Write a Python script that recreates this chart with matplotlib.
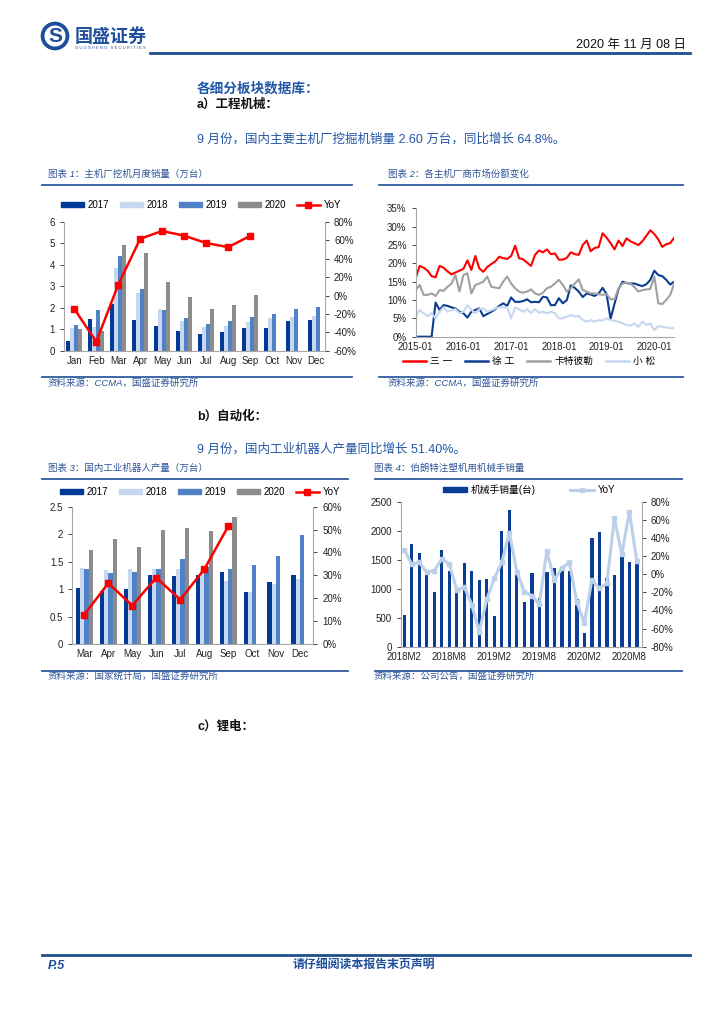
import numpy as np
import matplotlib.pyplot as plt
from matplotlib.patches import Patch, Circle
from matplotlib.lines import Line2D

# ---- data ----
months = ['Jan', 'Feb', 'Mar', 'Apr', 'May', 'Jun', 'Jul', 'Aug', 'Sep', 'Oct', 'Nov', 'Dec']
exc_2017 = [0.45, 1.46, 2.16, 1.45, 1.14, 0.90, 0.76, 0.87, 1.04, 1.04, 1.38, 1.42]
exc_2018 = [1.06, 1.09, 3.85, 2.67, 1.94, 1.40, 1.09, 1.15, 1.34, 1.52, 1.59, 1.62]
exc_2019 = [1.18, 1.90, 4.43, 2.86, 1.90, 1.51, 1.24, 1.40, 1.59, 1.71, 1.94, 2.04]
exc_2020 = [1.00, 0.92, 4.94, 4.56, 3.20, 2.49, 1.93, 2.13, 2.60, np.nan, np.nan, np.nan]
exc_yoy = [-14.6, -50.2, 11.9, 61.8, 70.2, 65.1, 57.1, 52.7, 64.8]

share_ticks = ['2015-01', '2016-01', '2017-01', '2018-01', '2019-01', '2020-01']
share_sany = [16.0, 19.3, 18.8, 18.0, 16.5, 16.2, 19.3, 18.8, 17.8, 17.0, 17.5, 18.0,
              18.5, 20.8, 18.2, 22.0, 18.6, 17.7, 19.0, 19.8, 20.5, 21.8, 21.4, 21.2,
              22.0, 24.8, 21.4, 21.1, 20.2, 19.3, 22.3, 23.5, 23.0, 23.8, 22.5, 22.7,
              21.0, 21.0, 21.5, 23.0, 22.5, 22.3, 25.0, 26.2, 23.3, 24.2, 24.4, 28.2,
              27.0, 25.5, 23.8, 26.2, 24.7, 26.8, 26.0, 25.5, 25.0, 26.0, 27.5, 29.0,
              28.0, 26.5, 24.5, 25.2, 25.5, 27.0]
share_xcmg = [0.0, 0.0, 0.0, 0.0, 0.0, 9.3, 7.3, 8.6, 8.4, 8.0, 7.7, 6.8,
              6.4, 5.2, 6.8, 7.3, 7.7, 5.6, 6.2, 6.8, 7.5, 8.4, 9.1, 8.4,
              10.7, 9.5, 9.5, 9.7, 10.2, 9.4, 9.5, 9.4, 10.9, 10.7, 8.6, 8.6,
              10.5, 9.1, 10.0, 14.0, 13.3, 12.3, 10.8, 11.8, 11.5, 11.1, 11.8, 13.3,
              11.6, 4.9, 9.0, 13.0, 15.0, 14.6, 14.5, 14.5, 14.1, 13.8, 14.3, 15.5,
              18.0, 16.8, 16.5, 15.5, 14.2, 15.0]
share_cat = [12.7, 14.1, 11.4, 11.4, 11.8, 11.1, 12.7, 12.5, 13.6, 14.5, 16.8, 12.3,
             16.8, 17.3, 11.8, 14.1, 14.5, 15.0, 16.4, 13.6, 13.4, 13.2, 15.0, 16.4,
             14.5, 13.2, 12.3, 12.0, 12.3, 12.9, 11.8, 11.4, 12.0, 13.2, 13.6, 14.5,
             15.5, 14.1, 12.3, 13.2, 14.5, 15.6, 12.7, 12.3, 11.8, 11.8, 11.6, 11.4,
             11.6, 10.2, 10.2, 13.2, 14.5, 14.7, 14.5, 13.5, 12.3, 12.7, 12.9, 13.0,
             16.4, 9.1, 8.9, 10.0, 11.4, 14.5]
share_komatsu = [5.5, 7.3, 6.4, 5.6, 6.4, 5.0, 6.8, 8.0, 6.8, 7.2, 7.5, 6.4,
                 6.8, 8.6, 7.3, 6.4, 7.5, 7.7, 6.8, 7.2, 7.7, 8.0, 8.0, 8.0,
                 5.0, 8.0, 7.5, 6.8, 7.5, 6.5, 7.5, 6.5, 6.8, 6.4, 6.8, 6.4,
                 5.0, 5.0, 5.5, 5.9, 5.5, 5.6, 4.6, 4.1, 4.5, 4.1, 4.5, 4.4,
                 5.0, 4.5, 4.3, 4.1, 3.6, 3.2, 3.0, 3.6, 2.7, 4.1, 3.2, 3.6,
                 1.8, 2.9, 2.7, 2.5, 2.3, 2.3]

rob_months = ['Mar', 'Apr', 'May', 'Jun', 'Jul', 'Aug', 'Sep', 'Oct', 'Nov', 'Dec']
rob_2017 = [1.02, 0.97, 1.00, 1.25, 1.24, 1.25, 1.31, 0.95, 1.12, 1.26]
rob_2018 = [1.39, 1.35, 1.36, 1.37, 1.36, 1.33, 1.14, 0.95, 1.10, 1.18]
rob_2019 = [1.37, 1.29, 1.32, 1.37, 1.54, 1.40, 1.36, 1.44, 1.60, 1.99]
rob_2020 = [1.71, 1.92, 1.77, 2.07, 2.11, 2.05, 2.31, np.nan, np.nan, np.nan]
rob_yoy = [12.8, 26.6, 16.8, 29.0, 19.4, 32.6, 51.4]

arm_ticks = ['2018M2', '2018M8', '2019M2', '2019M8', '2020M2', '2020M8']
arm_sales = [546, 1764, 1609, 1300, 948, 1667, 1300, 1000, 1448, 1305, 1149, 1167,
             534, 1994, 2356, 1320, 764, 1270, 833, 1290, 1362, 1370, 1310, 815,
             230, 1868, 1971, 1190, 1236, 1552, 1454, 1437]
arm_yoy = [26.7, 10.9, 13.1, 2.0, 4.0, 16.8, 11.2, -17.4, -13.8, -34.0, -63.4, -27.4,
           -4.6, 13.1, 45.8, 2.8, -19.3, -23.7, -33.2, 25.6, -6.4, 6.5, 13.1, -30.3,
           -54.2, -6.4, -15.6, -10.1, 61.6, 21.9, 69.0, 14.5]

# ---- style ----
plt.rcParams['font.family'] = ['Liberation Sans', 'Noto Sans CJK SC', 'DejaVu Sans']
C17, C18, C19, C20 = '#003A96', '#C6D8EF', '#4F81C7', '#8C8C8C'
RED = '#FF0000'
BLUE_TXT = '#2356A6'
LINE_BLUE = '#2E5C9E'
SPINE = '#A6A6A6'

W, H = 724, 1024
fig = plt.figure(figsize=(W / 100, H / 100), dpi=100)


def rect(x0, y0, x1, y1):
    return [x0 / W, 1 - y1 / H, (x1 - x0) / W, (y1 - y0) / H]


def ftext(x, y, s, **kw):
    fig.text(x / W, 1 - y / H, s, **kw)


def hline(x0, x1, y, color=LINE_BLUE, lw=1.3):
    fig.add_artist(Line2D([x0 / W, x1 / W], [1 - y / H] * 2, color=color, lw=lw))


def clean(ax, left=True, right=False, bottom=True):
    for s in ['top', 'left', 'right', 'bottom']:
        ax.spines[s].set_visible(False)
    for s, on in [('left', left), ('right', right), ('bottom', bottom)]:
        if on:
            ax.spines[s].set_visible(True)
            ax.spines[s].set_color(SPINE)
            ax.spines[s].set_linewidth(0.8)
    ax.tick_params(labelsize=7, colors='#222222', length=3, width=0.6)
    ax.tick_params(axis='x', length=0)
    ax.patch.set_alpha(0)


def pct(ax, ticks):
    ax.set_yticks(ticks)
    ax.set_yticklabels([f'{t}%' for t in ticks])


# ---- header ----
lax = fig.add_axes(rect(40, 21, 70, 51))
lax.set_xlim(-1.1, 1.1)
lax.set_ylim(-1.1, 1.1)
lax.axis('off')
lax.add_patch(Circle((0, 0), 1.0, color='#1F4E9A'))
lax.add_patch(Circle((0, 0), 0.72, color='white'))
lax.text(0, -0.05, 'S', ha='center', va='center', fontsize=15, fontweight='bold', color='#1F4E9A')
ftext(75, 36, '国盛证券', fontsize=13, fontweight='bold', color='#1F4E9A', va='center',
      family=['Noto Sans CJK SC'])
ftext(75, 48, 'G U O S H E N G   S E C U R I T I E S', fontsize=3, color='#1F4E9A', va='center')
ftext(686, 45, '2020 年 11 月 08 日', fontsize=9, ha='right', va='center', color='#111111')
hline(150, 690, 53, color='#1F4E8C', lw=2)

ftext(197, 88, '各细分板块数据库：', fontsize=9.8, fontweight='bold', color='#1F56A8', va='center')
ftext(197, 105, 'a）工程机械：', fontsize=9, fontweight='bold', color='#111111', va='center')
ftext(197, 139, '9 月份，国内主要主机厂挖掘机销量 2.60 万台，同比增长 64.8%。', fontsize=9,
      color=BLUE_TXT, va='center')

# ---- chart titles / source lines ----
tkw = dict(fontsize=6.8, style='italic', color='#2F5597', va='center')
ftext(48, 174, '图表 1：主机厂挖机月度销量（万台）', **tkw)
ftext(388, 174, '图表 2：各主机厂商市场份额变化', **tkw)
hline(42, 352, 184.5)
hline(379, 683, 184.5)
hline(42, 352, 377)
hline(379, 683, 377)
ftext(48, 383, '资料来源：CCMA，国盛证券研究所', **tkw)
ftext(388, 383, '资料来源：CCMA，国盛证券研究所', **tkw)

ftext(197, 417, 'b）自动化：', fontsize=9, fontweight='bold', color='#111111', va='center')
ftext(197, 449, '9 月份，国内工业机器人产量同比增长 51.40%。', fontsize=9, color=BLUE_TXT, va='center')

ftext(48, 468, '图表 3：国内工业机器人产量（万台）', **tkw)
ftext(374, 468, '图表 4：伯朗特注塑机用机械手销量', **tkw)
hline(42, 348, 479)
hline(375, 682, 479)
hline(42, 348, 671)
hline(375, 682, 671)
ftext(48, 676, '资料来源：国家统计局，国盛证券研究所', **tkw)
ftext(374, 676, '资料来源：公司公告，国盛证券研究所', **tkw)

ftext(197, 727, 'c）锂电：', fontsize=9, fontweight='bold', color='#111111', va='center')

hline(42, 690, 955, color='#1F4E8C', lw=2)
ftext(48, 966, 'P.5', fontsize=9, fontweight='bold', style='italic', color='#1F4E9A', va='center')
ftext(364, 966, '请仔细阅读本报告末页声明', fontsize=8.6, fontweight='bold', style='italic',
      color='#1F4E9A', va='center', ha='center')

leg_kw = dict(loc='center', frameon=False, fontsize=7, handlelength=2.4, handleheight=0.45,
              columnspacing=1.1, handletextpad=0.35)

# ---- chart 1: excavator monthly sales ----
ax1 = fig.add_axes(rect(64, 222, 325, 350.7))
x = np.arange(len(months))
w = 0.18
for k, (vals, c) in enumerate([(exc_2017, C17), (exc_2018, C18), (exc_2019, C19), (exc_2020, C20)]):
    ax1.bar(x + (k - 1.5) * w, vals, w, color=c)
ax1.set_xlim(-0.47, 11.41)
ax1.set_ylim(0, 6)
ax1.set_yticks(range(7))
ax1.set_xticks(x)
ax1.set_xticklabels(months)
clean(ax1)
ax1b = ax1.twinx()
ax1b.plot(x[:len(exc_yoy)], exc_yoy, color=RED, lw=1.8, marker='s', ms=4)
ax1b.set_ylim(-60, 80)
pct(ax1b, range(-60, 81, 20))
clean(ax1b, left=False, right=True, bottom=False)
h1 = [Patch(color=C17), Patch(color=C18), Patch(color=C19), Patch(color=C20),
      Line2D([], [], color=RED, lw=1.8, marker='s', ms=4)]
fig.legend(h1, ['2017', '2018', '2019', '2020', 'YoY'], ncol=5,
           bbox_to_anchor=(201 / W, 1 - 205 / H), **leg_kw)

# ---- chart 2: market share ----
ax2 = fig.add_axes(rect(415.7, 208.3, 674.2, 336.7))
t = np.arange(len(share_sany))
ax2.plot(t, share_sany, color=RED, lw=1.5)
ax2.plot(t, share_xcmg, color='#0A3D91', lw=1.5)
ax2.plot(t, share_cat, color='#A0A0A0', lw=1.5)
ax2.plot(t, share_komatsu, color='#C6D8EF', lw=1.5)
ax2.set_xlim(0, 65)
ax2.set_ylim(0, 35)
pct(ax2, range(0, 36, 5))
ax2.set_xticks(range(0, 61, 12))
ax2.set_xticklabels(share_ticks)
clean(ax2)
h2 = [Line2D([], [], color=c, lw=1.8) for c in [RED, '#0A3D91', '#A0A0A0', '#C6D8EF']]
fig.legend(h2, ['三 一', '徐 工', '卡特彼勒', '小 松'], ncol=4,
           bbox_to_anchor=(529 / W, 1 - 361 / H), loc='center', frameon=False, fontsize=7,
           handlelength=2.4, columnspacing=1.3, handletextpad=0.4)

# ---- chart 3: industrial robot output ----
ax3 = fig.add_axes(rect(72.3, 506.7, 313.3, 644))
x3 = np.arange(len(rob_months))
for k, (vals, c) in enumerate([(rob_2017, C17), (rob_2018, C18), (rob_2019, C19), (rob_2020, C20)]):
    ax3.bar(x3 + (k - 1.5) * w, vals, w, color=c)
ax3.set_xlim(-0.5, 9.55)
ax3.set_ylim(0, 2.5)
ax3.set_yticks([0, 0.5, 1, 1.5, 2, 2.5])
ax3.set_yticklabels(['0', '0.5', '1', '1.5', '2', '2.5'])
ax3.set_xticks(x3)
ax3.set_xticklabels(rob_months)
clean(ax3)
ax3b = ax3.twinx()
ax3b.plot(x3[:len(rob_yoy)], rob_yoy, color=RED, lw=1.8, marker='s', ms=4)
ax3b.set_ylim(0, 60)
pct(ax3b, range(0, 61, 10))
clean(ax3b, left=False, right=True, bottom=False)
fig.legend(h1, ['2017', '2018', '2019', '2020', 'YoY'], ncol=5,
           bbox_to_anchor=(200 / W, 1 - 492 / H), **leg_kw)

# ---- chart 4: robot arm sales ----
ax4 = fig.add_axes(rect(401, 501.7, 641.7, 646.7))
x4 = np.arange(len(arm_sales))
ax4.bar(x4, arm_sales, 0.45, color='#0A3D96')
ax4.set_xlim(-0.44, 31.65)
ax4.set_ylim(0, 2500)
ax4.set_yticks(range(0, 2501, 500))
ax4.set_xticks(range(0, 31, 6))
ax4.set_xticklabels(arm_ticks)
clean(ax4)
ax4b = ax4.twinx()
ax4b.plot(x4, arm_yoy, color='#BDD0EA', lw=2.2, marker='s', ms=3.5)
ax4b.set_ylim(-80, 80)
pct(ax4b, range(-80, 81, 20))
clean(ax4b, left=False, right=True, bottom=False)
h4 = [Patch(color='#0A3D96'), Line2D([], [], color='#BDD0EA', lw=2.2, marker='s', ms=3.5)]
fig.legend(h4, ['机械手销量(台)', 'YoY'], ncol=2,
           bbox_to_anchor=(529 / W, 1 - 490 / H), loc='center', frameon=False, fontsize=7,
           handlelength=2.5, handleheight=0.45, columnspacing=3.5, handletextpad=0.4)

fig.savefig('out.png', dpi=100)
